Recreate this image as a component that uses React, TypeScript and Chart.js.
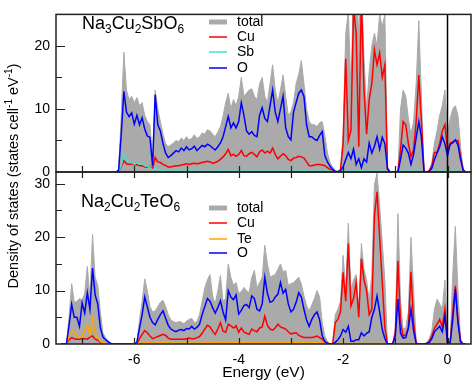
import React, { useEffect, useRef } from "react";
import { Chart, registerables } from "chart.js";

Chart.register(...registerables);

const FONT = '"Liberation Sans", Arial, Helvetica, sans-serif';
const W = 474;
const H = 382;
const PLOT_LEFT = 56;
const PLOT_RIGHT = 471;
const TOP_Y = 2;
const MID_Y = 172;
const BOTTOM_Y = 344;

// ---------- axes ----------
const X_MIN = -7.5;
const X_MAX = 0.45;
const xTickLabels = [-6, -4, -2, 0];
const xTickMarks = [-7, -6, -5, -4, -3, -2, -1, 0];
const topYMax = 25;
const bottomYMax = 32.2;
const topYLabels = [0, 10, 20];
const bottomYLabels = [0, 10, 20, 30];
const topYMarks = [5, 10, 15, 20];
const bottomYMarks = [5, 10, 15, 20, 25, 30];

// ---------- Na3Cu2SbO6 (energy grid starts at -6.40 eV, step 0.05 eV) ----------
const TOP_E0 = -6.4;
const DE = 0.05;
const totalSb = [
  0, 0, 0.5, 9, 19, 13, 11.5, 12, 11, 11.8, 10.5, 11, 9, 8, 7.5, 2, 13, 10, 8, 6,
  4.5, 4, 4.3, 4.6, 5, 4.8, 5.4, 5, 5.6, 5.1, 5.3, 5.9, 5.3, 5.6, 6.2, 6, 6.7, 6.5, 6, 5.6,
  6.3, 7.2, 8.8, 11, 12.5, 10, 11.5, 10.5, 12, 15, 12, 12.5, 13, 13.2, 12, 11.5, 14, 15, 12, 11,
  14, 17, 13, 11, 13, 15.4, 12, 9, 9.5, 11, 14, 15.5, 17.7, 14, 10, 8, 7.5, 7.5, 7.2, 7.8,
  8, 5.8, 3, 1.5, 0.8, 0.3, 0.1, 0.5, 6, 22, 25.5, 13, 30, 30, 22, 30, 18, 10, 16, 20,
  22, 20, 25, 23, 25, 0.8, 0, 0, 0, 0, 10, 13, 12, 8.5, 6, 8, 14, 24, 12, 0.3,
  0, 0.3, 1.5, 4.6, 6.5, 9, 10.5, 13, 6, 8.5, 10, 10.5, 9, 4, 0.5, 0,
];
const cuSb = [
  0, 0, 0.1, 0.8, 1.8, 1.3, 1.2, 1.3, 1.1, 1.2, 1.0, 1.0, 0.8, 0.8, 0.9, 0.5, 2.3, 1.6, 1.5, 1.2,
  1.0, 0.8, 0.8, 0.9, 1.0, 1.0, 1.1, 1.2, 1.3, 1.2, 1.3, 1.4, 1.3, 1.4, 1.5, 1.6, 1.7, 1.6, 1.4, 1.5,
  1.7, 2.0, 2.4, 2.9, 3.6, 2.6, 2.8, 2.5, 2.8, 3.4, 2.6, 2.5, 2.9, 3.1, 2.8, 2.4, 3.2, 3.5, 3.0, 3.3,
  3.0, 3.8, 2.8, 2.1, 2.5, 2.9, 2.6, 2.0, 1.8, 2.2, 2.3, 2.5, 2.4, 2.2, 1.6, 1.0, 1.0, 1.1, 1.2, 1.2,
  1.1, 1.0, 0.7, 0.4, 0.3, 0.1, 0.05, 0.3, 4.5, 18, 5, 6.6, 26, 22, 4, 28, 13, 6, 11.5, 14,
  19.4, 17, 18.9, 15, 17, 0.5, 0, 0, 0, 0, 3.6, 8, 7.5, 4.5, 2.4, 3.5, 8, 15.4, 8, 0.1,
  0, 0.2, 1.0, 3.1, 3.1, 4.5, 6.5, 7.5, 3.5, 4.6, 4.8, 5.0, 5.0, 2.5, 0.3, 0,
];
const sbSb = [
  0, 0, 0.1, 1.0, 2.9, 1.8, 1.6, 1.5, 1.2, 1.5, 1.2, 1.4, 1.0, 0.9, 0.8, 0.3, 0.6, 0.4, 0.3, 0.2,
  0.1, 0.1, 0.1, 0.1, 0.1, 0.1, 0.1, 0.1, 0.1, 0.1, 0.1, 0.1, 0.1, 0.1, 0.1, 0.1, 0.1, 0.1, 0.1, 0.1,
  0.1, 0.1, 0.1, 0.1, 0.1, 0.1, 0.1, 0.1, 0.1, 0.1, 0.1, 0.1, 0.1, 0.1, 0.1, 0.1, 0.1, 0.1, 0.1, 0.1,
  0.1, 0.1, 0.1, 0.1, 0.1, 0.1, 0.1, 0.1, 0.1, 0.1, 0.1, 0.1, 0.1, 0.1, 0.1, 0.1, 0.1, 0.1, 0.1, 0.1,
  0.1, 0.1, 0.1, 0.1, 0.1, 0.1, 0.05, 0.1, 0.1, 0.1, 0.1, 0.1, 0.1, 0.1, 0.1, 0.1, 0.1, 0.1, 0.1, 0.1,
  0.1, 0.1, 0.1, 0.1, 0.1, 0.05, 0, 0, 0, 0, 0.1, 0.1, 0.1, 0.1, 0.1, 0.1, 0.1, 0.1, 0.1, 0,
  0, 0, 0.05, 0.1, 0.1, 0.1, 0.1, 0.1, 0.1, 0.1, 0.1, 0.1, 0.1, 0.05, 0, 0,
];
const oSb = [
  0, 0, 0.3, 6, 12.8, 9.5, 8.8, 9.4, 7.6, 9.0, 7.5, 8.6, 6.8, 5.7, 5.5, 1.0, 12.3, 7.5, 6.5, 4.5,
  3.0, 2.3, 2.6, 3.0, 3.4, 3.2, 3.8, 3.4, 4.0, 3.5, 3.7, 4.1, 3.4, 3.8, 4.2, 4.0, 4.4, 4.2, 3.8, 3.5,
  4.0, 4.6, 5.6, 7.2, 8.8, 7.0, 7.8, 7.0, 8.0, 11.0, 9.0, 6.5, 6.0, 6.4, 5.8, 5.6, 9.0, 10.2, 8.5, 8.0,
  10.5, 13.0, 9.5, 8.0, 10.0, 12.0, 7.0, 5.6, 5.1, 9.5, 11.0, 12.5, 13.0, 12.0, 7.5, 5.6, 5.6, 5.2, 5.0, 5.8,
  6.4, 2.6, 1.6, 0.9, 0.4, 0.1, 0.05, 0.2, 0.8, 2.0, 3.1, 2.1, 3.6, 1.2, 2.1, 0.7, 2.1, 1.6, 4.6, 3.0,
  4.1, 5.6, 3.6, 5.5, 4.5, 0.5, 0, 0, 0, 0, 2.0, 4.3, 3.8, 3.0, 1.2, 2.8, 5.5, 8.0, 5.5, 0.1,
  0, 0.1, 0.6, 2.0, 3.0, 4.0, 5.6, 4.5, 2.6, 4.4, 4.6, 5.1, 4.3, 2.0, 0.3, 0,
];

// ---------- Na2Cu2TeO6 (energy grid starts at -7.40 eV, step 0.05 eV) ----------
const BOT_E0 = -7.4;
const totalTe = [
  0, 0, 0, 5, 11.3, 7.8, 8.0, 8.5, 8.2, 9.5, 14.5, 8.5, 20.5, 12.5, 11, 6, 2.0, 1.2, 0.6, 0.2,
  0, 0, 0, 0, 0, 0, 0, 0, 0, 0.5, 4.5, 8, 12.2, 10, 7, 6.0, 6.2, 7.0, 7.8, 8.2,
  7.0, 5.5, 4.5, 4.2, 4.0, 4.2, 4.1, 3.8, 4.3, 4.6, 4.8, 4.0, 4.2, 5.5, 8, 10.5, 12.0, 13.0, 9, 7.5,
  10, 12.8, 8, 8.5, 15, 12.5, 11, 11.5, 9.5, 9.8, 10.6, 10, 9.6, 12.5, 13.8, 10.5, 11.5, 12.5, 18.5, 15,
  12.5, 12.8, 13, 14, 15, 13.5, 13.8, 11, 11.3, 11.5, 12, 12.5, 11.2, 9, 7.2, 6.2, 7.3, 8.5, 10, 8.8,
  4, 1.5, 0.5, 0, 0, 5.5, 6.5, 8, 16.6, 10, 22.6, 10, 12, 13, 6, 18.8, 14, 12, 8, 13,
  29.8, 32, 26, 19, 12, 0, 0, 0, 3, 24.4, 8, 2.8, 3, 6, 20, 10, 0.3, 0, 0, 0,
  0.3, 1.0, 2.5, 6.5, 8.4, 7.5, 6.5, 12, 0.5, 0.5, 13, 22, 10, 1, 0, 0,
];
const cuTe = [
  0, 0, 0, 0.8, 1.2, 1.0, 0.9, 0.9, 1.0, 1.0, 0.9, 1.3, 1.5, 0.9, 0.7, 0.3, 0.1, 0.05, 0, 0,
  0, 0, 0, 0, 0, 0, 0, 0, 0, 0.1, 1.0, 1.8, 2.5, 2.1, 1.5, 1.0, 1.2, 1.4, 1.6, 1.8,
  1.6, 1.1, 0.9, 0.9, 0.9, 0.9, 0.9, 0.9, 1.0, 1.1, 1.0, 1.0, 1.2, 1.4, 2.0, 2.8, 3.5, 3.2, 2.4, 1.8,
  2.8, 4.0, 2.4, 2.2, 3.7, 3.4, 3.0, 3.4, 2.2, 3.0, 2.2, 2.0, 1.8, 2.8, 2.5, 2.3, 3.0, 3.2, 5.2, 3.5,
  2.8, 2.6, 3.0, 3.7, 3.2, 3.0, 2.8, 2.3, 1.9, 2.0, 2.1, 1.6, 1.4, 1.2, 1.2, 1.2, 1.2, 1.3, 1.5, 1.2,
  0.9, 0.4, 0.2, 0, 0, 4.0, 4.6, 6, 13.4, 8, 18.8, 7.1, 8.5, 11.5, 5, 16, 12, 10, 5.5, 6.5,
  24, 28.5, 20, 11.5, 3, 0, 0, 0, 2, 15.6, 4, 1.5, 1.7, 3, 13.5, 4, 0.1, 0, 0, 0,
  0.1, 0.5, 1.5, 3.0, 3.7, 4.6, 3.2, 6.5, 0.3, 0.2, 6, 10.9, 4.5, 0.5, 0, 0,
];
const teTe = [
  0, 0, 0, 1.5, 2.5, 2.2, 1.6, 1.2, 1.5, 2.5, 3.5, 1.8, 4.8, 2.0, 1.2, 0.5, 0.2, 0.1, 0, 0,
  0, 0, 0, 0, 0, 0, 0, 0, 0, 0, 0.2, 0.2, 0.3, 0.3, 0.3, 0.2, 0.2, 0.2, 0.2, 0.3,
  0.3, 0.2, 0.2, 0.2, 0.2, 0.2, 0.2, 0.2, 0.2, 0.2, 0.2, 0.2, 0.2, 0.2, 0.2, 0.3, 0.3, 0.3, 0.3, 0.2,
  0.3, 0.4, 0.3, 0.3, 0.3, 0.3, 0.3, 0.3, 0.3, 0.3, 0.3, 0.3, 0.3, 0.3, 0.3, 0.3, 0.3, 0.3, 0.3, 0.3,
  0.3, 0.3, 0.3, 0.3, 0.3, 0.3, 0.3, 0.3, 0.3, 0.3, 0.3, 0.3, 0.3, 0.3, 0.3, 0.3, 0.3, 0.3, 0.3, 0.2,
  0.2, 0.1, 0, 0, 0, 0.1, 0.1, 0.1, 0.1, 0.1, 0.1, 0.1, 0.1, 0.1, 0.1, 0.1, 0.1, 0.1, 0.1, 0.1,
  0.1, 0.1, 0.1, 0.1, 0.1, 0, 0, 0, 0, 0.1, 0.1, 0.1, 0.1, 0.1, 0.1, 0.1, 0, 0, 0, 0,
  0, 0.1, 0.1, 0.1, 0.1, 0.1, 0.1, 0.1, 0, 0, 0.1, 0.1, 0.1, 0, 0, 0,
];
const oTe = [
  0, 0, 0, 3.5, 7.4, 5.0, 5.0, 3.3, 7.7, 5.8, 9.6, 6.5, 14.2, 9.2, 7.5, 3.0, 1.3, 0.8, 0.4, 0.1,
  0, 0, 0, 0, 0, 0, 0, 0, 0, 0.3, 3.0, 5.5, 8.8, 6.9, 5.0, 4.0, 3.6, 4.6, 5.5, 6.2,
  4.8, 3.5, 2.8, 2.5, 2.3, 2.6, 2.7, 2.5, 2.9, 2.8, 3.3, 2.8, 3.1, 3.7, 5.5, 7.0, 8.5, 8.0, 6.8, 5.8,
  6.8, 8.1, 6.0, 4.5, 10, 8.8, 8.3, 9.2, 5.6, 6.3, 7.2, 7.4, 6.8, 9.0, 8.5, 6.5, 6.2, 7.5, 12.5, 9.5,
  7.8, 8.0, 8.8, 9.3, 11.5, 9.5, 10.2, 7.5, 6.0, 6.5, 7.8, 9.6, 8.8, 6.5, 4.5, 3.3, 4.6, 5.5, 6.0, 4.5,
  1.5, 0.5, 0.1, 0, 0, 0.3, 0.8, 1.5, 2.7, 2.2, 3.3, 0.5, 0.5, 0.8, 0.8, 2.1, 1.5, 2.0, 2.3, 5.0,
  6.5, 9.0, 6.0, 2.7, 1.0, 0, 0, 0, 1.5, 8.4, 2.0, 1.1, 1.2, 3.0, 6.5, 2.5, 0.1, 0, 0, 0,
  0.1, 0.3, 1.0, 2.3, 2.8, 3.3, 2.3, 5.2, 0.3, 0.2, 4.5, 10.3, 4.0, 0.4, 0, 0,
];

const energyTop = totalSb.map((_, i) => Math.round((TOP_E0 + i * DE) * 100) / 100);
const energyBottom = totalTe.map((_, i) => Math.round((BOT_E0 + i * DE) * 100) / 100);

type Run = [string, number];
const titleTop: Run[] = [["Na", 0], ["3", 1], ["Cu", 0], ["2", 1], ["Sb", 0], ["O", 0], ["6", 1]];
const titleBottom: Run[] = [["Na", 0], ["2", 1], ["Cu", 0], ["2", 1], ["Te", 0], ["O", 0], ["6", 1]];

const GRAY = "#aaaaaa";
const RED = "#ff0000";
const BLUE = "#0000ff";
const TURQ = "#40e0d0";
const ORANGE = "#ffa500";

function drawRuns(ctx: CanvasRenderingContext2D, runs: Run[], x: number, y: number, size: number, subSize: number, subDy: number) {
  ctx.textBaseline = "alphabetic";
  ctx.textAlign = "left";
  let cx = x;
  for (const [t, sub] of runs) {
    ctx.font = `${sub ? subSize : size}px ${FONT}`;
    ctx.fillText(t, cx, y + (sub ? subDy : 0));
    cx += ctx.measureText(t).width;
  }
}

type PanelCfg = {
  id: string;
  title: Run[];
  titleX: number;
  titleBase: number;
  legend: { label: string; color: string; width: number }[];
  legendY: number[];
  yMarks: number[];
  topTicks: boolean;
  axisTitles: boolean;
};

function panelPlugin(cfg: PanelCfg) {
  return {
    id: cfg.id,
    afterDraw(chart: any) {
      const { ctx, chartArea: a, scales } = chart;
      const xs = scales.x;
      const ys = scales.y;
      ctx.save();
      // Fermi level
      const x0 = xs.getPixelForValue(0);
      ctx.strokeStyle = "#000";
      ctx.lineWidth = 1.5;
      ctx.beginPath();
      ctx.moveTo(x0, a.top);
      ctx.lineTo(x0, a.bottom);
      ctx.stroke();
      // tick marks (inward)
      ctx.strokeStyle = "#222";
      ctx.lineWidth = 1.2;
      ctx.beginPath();
      for (const v of xTickMarks) {
        const px = Math.round(xs.getPixelForValue(v)) + 0.5;
        ctx.moveTo(px, a.bottom);
        ctx.lineTo(px, a.bottom - 6);
        if (cfg.topTicks) {
          ctx.moveTo(px, a.top);
          ctx.lineTo(px, a.top + 6);
        }
      }
      for (const v of cfg.yMarks) {
        const py = Math.round(ys.getPixelForValue(v)) + 0.5;
        const len = v % 10 === 0 ? 9 : 6;
        ctx.moveTo(a.left, py);
        ctx.lineTo(a.left + len, py);
      }
      ctx.stroke();
      // frame
      ctx.strokeStyle = "#222";
      ctx.lineWidth = 1.5;
      ctx.strokeRect(a.left, a.top, a.right - a.left, a.bottom - a.top);
      // title
      ctx.fillStyle = "#000";
      drawRuns(ctx, cfg.title, cfg.titleX, cfg.titleBase, 18, 12, 4);
      // legend
      cfg.legend.forEach((it, i) => {
        const y = cfg.legendY[i];
        ctx.strokeStyle = it.color;
        ctx.lineWidth = it.width;
        ctx.beginPath();
        ctx.moveTo(209, y);
        ctx.lineTo(227, y);
        ctx.stroke();
        ctx.fillStyle = "#000";
        ctx.font = `14px ${FONT}`;
        ctx.textBaseline = "middle";
        ctx.textAlign = "left";
        ctx.fillText(it.label, 237, y + 0.5);
      });
      if (cfg.axisTitles) {
        // x title
        ctx.fillStyle = "#000";
        ctx.font = `15.5px ${FONT}`;
        ctx.textAlign = "center";
        ctx.textBaseline = "middle";
        ctx.fillText("Energy (eV)", (PLOT_LEFT + PLOT_RIGHT) / 2, 373);
        // y title (rotated, with superscripts)
        const runs: [string, number][] = [
          ["Density of states (states cell", 0],
          ["-1", 1],
          [" eV", 0],
          ["-1", 1],
          [")", 0],
        ];
        const big = 14.5;
        const small = 10;
        let total = 0;
        for (const [t, sup] of runs) {
          ctx.font = `${sup ? small : big}px ${FONT}`;
          total += ctx.measureText(t).width;
        }
        ctx.translate(13, (TOP_Y + BOTTOM_Y) / 2 + 3);
        ctx.rotate(-Math.PI / 2);
        ctx.textAlign = "left";
        ctx.textBaseline = "alphabetic";
        let cx = -total / 2;
        const base = 5;
        for (const [t, sup] of runs) {
          ctx.font = `${sup ? small : big}px ${FONT}`;
          ctx.fillText(t, cx, base + (sup ? -6 : 0));
          cx += ctx.measureText(t).width;
        }
      }
      ctx.restore();
    },
  };
}

function lineSet(label: string, xs: number[], ys: number[], color: string, width: number, order: number, fill: boolean) {
  return {
    label,
    data: xs.map((x, i) => ({ x, y: ys[i] })),
    borderColor: color,
    backgroundColor: fill ? color : "transparent",
    borderWidth: width,
    fill: fill ? "origin" : false,
    pointRadius: 0,
    tension: 0,
    order,
  };
}

function makeConfig(panel: "top" | "bottom"): any {
  const isTop = panel === "top";
  const energy = isTop ? energyTop : energyBottom;
  const datasets = isTop
    ? [
        lineSet("total", energy, totalSb, GRAY, 1, 4, true),
        lineSet("Cu", energy, cuSb, RED, 1.5, 3, false),
        lineSet("Sb", energy, sbSb, TURQ, 1.5, 2, false),
        lineSet("O", energy, oSb, BLUE, 1.5, 1, false),
      ]
    : [
        lineSet("total", energy, totalTe, GRAY, 1, 4, true),
        lineSet("Cu", energy, cuTe, RED, 1.5, 3, false),
        lineSet("Te", energy, teTe, ORANGE, 1.5, 2, false),
        lineSet("O", energy, oTe, BLUE, 1.5, 1, false),
      ];
  const yLabels = isTop ? topYLabels : bottomYLabels;
  const plugin = panelPlugin({
    id: isTop ? "panelTop" : "panelBottom",
    title: isTop ? titleTop : titleBottom,
    titleX: isTop ? 82 : 81,
    titleBase: isTop ? 29 : 207,
    legend: [
      { label: "total", color: GRAY, width: 5 },
      { label: "Cu", color: RED, width: 1.5 },
      { label: isTop ? "Sb" : "Te", color: isTop ? TURQ : ORANGE, width: 1.5 },
      { label: "O", color: BLUE, width: 1.5 },
    ],
    legendY: isTop ? [22, 37, 52, 68] : [208, 223, 239, 253],
    yMarks: isTop ? topYMarks : bottomYMarks,
    topTicks: !isTop,
    axisTitles: !isTop,
  });
  return {
    type: "line",
    data: { datasets },
    plugins: [plugin],
    options: {
      animation: false,
      responsive: false,
      devicePixelRatio: 1,
      events: [],
      layout: {
        padding: {
          left: 0,
          right: W - PLOT_RIGHT,
          top: isTop ? TOP_Y : MID_Y,
          bottom: isTop ? H - MID_Y : 0,
        },
      },
      plugins: { legend: { display: false }, tooltip: { enabled: false }, title: { display: false } },
      scales: {
        x: {
          type: "linear",
          min: X_MIN,
          max: X_MAX,
          display: !isTop,
          afterFit: (s: any) => {
            s.height = isTop ? 0 : H - BOTTOM_Y;
          },
          afterBuildTicks: (s: any) => {
            s.ticks = xTickLabels.map((v) => ({ value: v }));
          },
          grid: { display: false, drawTicks: false },
          border: { display: false },
          ticks: {
            padding: 8,
            color: "#000",
            font: { family: FONT, size: 14 },
            maxRotation: 0,
            autoSkip: false,
          },
        },
        y: {
          type: "linear",
          min: 0,
          max: isTop ? topYMax : bottomYMax,
          afterFit: (s: any) => {
            s.width = PLOT_LEFT;
          },
          afterBuildTicks: (s: any) => {
            s.ticks = yLabels.map((v) => ({ value: v }));
          },
          grid: { display: false, drawTicks: false },
          border: { display: false },
          ticks: {
            padding: 6,
            color: "#000",
            font: { family: FONT, size: 14 },
          },
        },
      },
    },
  };
}

export default function App() {
  const topRef = useRef<HTMLCanvasElement | null>(null);
  const botRef = useRef<HTMLCanvasElement | null>(null);

  useEffect(() => {
    Chart.defaults.font.family = FONT;
    const c1 = new Chart(topRef.current as HTMLCanvasElement, makeConfig("top"));
    const c2 = new Chart(botRef.current as HTMLCanvasElement, makeConfig("bottom"));
    return () => {
      c1.destroy();
      c2.destroy();
    };
  }, []);

  const canvasStyle: React.CSSProperties = { position: "absolute", left: 0, top: 0, width: W, height: H };
  return (
    <div style={{ position: "absolute", left: 0, top: 0, width: W, height: H, background: "#fff", overflow: "hidden" }}>
      <canvas ref={topRef} width={W} height={H} style={canvasStyle} />
      <canvas ref={botRef} width={W} height={H} style={canvasStyle} />
    </div>
  );
}
